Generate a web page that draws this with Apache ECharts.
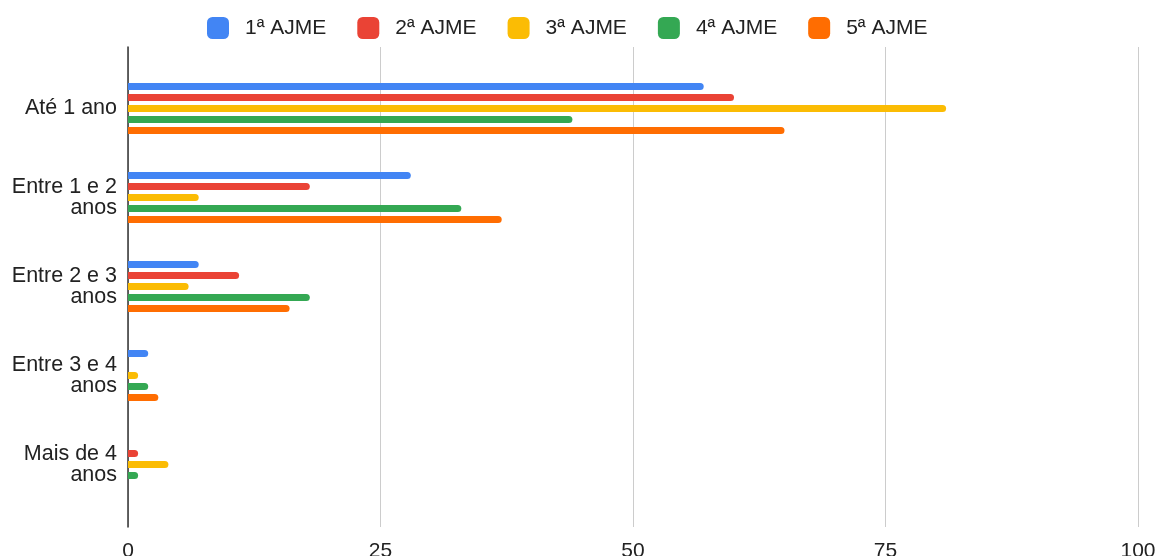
<!DOCTYPE html>
<html>
<head>
<meta charset="utf-8">
<script src="https://cdn.jsdelivr.net/npm/echarts@6/dist/echarts.min.js"></script>
<style>
html,body{margin:0;padding:0;background:#fff;}
#c{width:1160px;height:556px;}
</style>
</head>
<body>
<div id="c"></div>
<script>
var categories = ['Até 1 ano', 'Entre 1 e 2\nanos', 'Entre 2 e 3\nanos', 'Entre 3 e 4\nanos', 'Mais de 4\nanos'];
var seriesNames = ['1ª AJME', '2ª AJME', '3ª AJME', '4ª AJME', '5ª AJME'];
var s1 = [57, 28, 7, 2, 0];
var s2 = [60, 18, 11, 0, 1];
var s3 = [81, 7, 6, 1, 4];
var s4 = [44, 33, 18, 2, 1];
var s5 = [65, 37, 16, 3, 0];
var xTicks = [0, 25, 50, 75, 100];
var colors = ['#4285F4', '#EA4335', '#FBBC04', '#34A853', '#FF6D01'];

var values = [s1, s2, s3, s4, s5];
var font = "'Liberation Sans', Arial, sans-serif";
var chart = echarts.init(document.getElementById('c'), null, {renderer: 'canvas'});
var series = values.map(function (v, i) {
  return {
    name: seriesNames[i],
    type: 'bar',
    xAxisIndex: 1,
    yAxisIndex: 1,
    data: v,
    barWidth: 7,
    barGap: '57%',
    itemStyle: {color: colors[i], borderRadius: [0, 4, 4, 0]},
    emphasis: {disabled: true}
  };
});
chart.setOption({
  animation: false,
  color: colors,
  legend: {
    top: 12,
    left: 202,
    itemWidth: 22,
    itemHeight: 22,
    itemGap: 31,
    icon: 'roundRect',
    textStyle: {fontFamily: font, fontSize: 21, color: '#222', padding: [0, 0, 0, 11]},
    data: seriesNames
  },
  grid: [
    {left: 128, right: 22, top: 47, bottom: 29, outerBoundsMode: 'none', containLabel: false},
    {left: 128, right: 22, top: 64, bottom: 47, outerBoundsMode: 'none', containLabel: false}
  ],
  xAxis: [
    {
      gridIndex: 0, type: 'value', min: xTicks[0], max: xTicks[xTicks.length - 1], interval: 25,
      axisLine: {show: false}, axisTick: {show: false},
      splitLine: {show: true, lineStyle: {color: '#cccccc', width: 1}},
      axisLabel: {fontFamily: font, fontSize: 21, color: '#222', margin: 14}
    },
    {
      gridIndex: 1, type: 'value', min: xTicks[0], max: xTicks[xTicks.length - 1],
      show: false, splitLine: {show: false}
    }
  ],
  yAxis: [
    {
      gridIndex: 0, type: 'value', min: 0, max: 1,
      axisLine: {show: true, lineStyle: {color: '#333', width: 1.5}},
      axisTick: {show: false}, axisLabel: {show: false}, splitLine: {show: false}
    },
    {
      gridIndex: 1, type: 'category', inverse: true, data: categories,
      axisLine: {show: false}, axisTick: {show: false}, splitLine: {show: false},
      axisLabel: {fontFamily: font, fontSize: 21.5, color: '#222', margin: 11, lineHeight: 21.5, align: 'right', padding: [4, 0, 0, 0]}
    }
  ],
  series: series
});
</script>
</body>
</html>
